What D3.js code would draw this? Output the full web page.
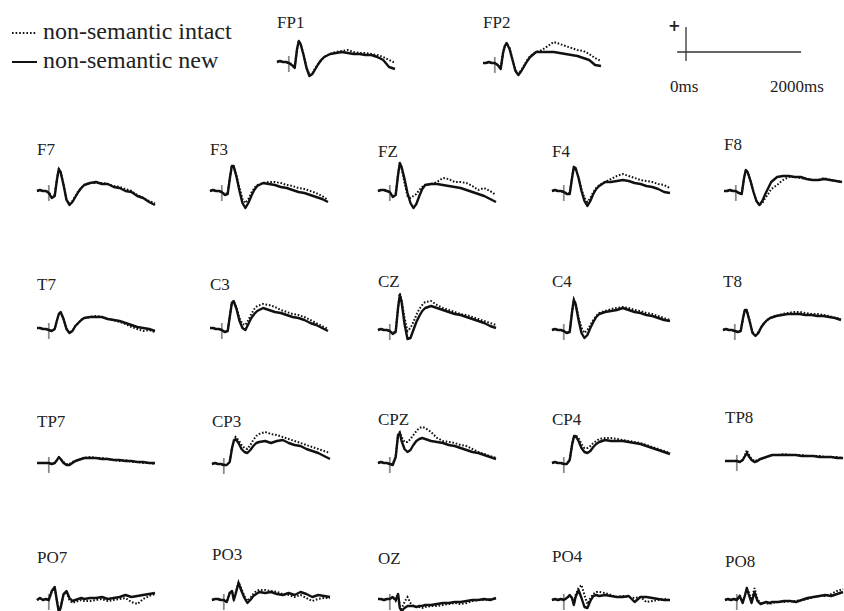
<!DOCTYPE html>
<html lang="en">
<head>
<meta charset="UTF-8">
<title>ERP waveforms</title>
<script src="https://d3js.org/d3.v7.min.js"></script>
<style>
  body { margin: 0; background: #fff; }
  text { font-family: "Liberation Serif", "Times New Roman", serif; fill: #222; }
</style>
</head>
<body>
<div id="chart"></div>
<script>
// sample times (ms) shared by every channel
var times = [-200,-150,-100,-50,0,50,100,140,170,200,250,300,350,400,450,500,550,600,700,800,900,1000,1100,1200,1300,1400,1500,1600,1700,1800];

// amplitudes (uV), positive up
var FP1_new    = [0,1,0,0,-1,-3,-6,13,21,18,7,-6,-14,-12,-7,-2,2,5,8,9,10,9,8,8,7,7,5,2,-5,-7];
var FP1_intact = [0,1,0,0,-1,-2,-5,13,21,18,8,-5,-13,-11,-6,-2,2,5,8,10,11,12,10,9,9,8,7,5,2,-1];
var FP2_new    = [0,0,1,0,0,-2,-6,10,17,20,14,3,-8,-12,-8,-3,2,6,11,11,11,11,10,9,8,7,5,3,-2,-3];
var FP2_intact = [0,0,1,0,0,-2,-5,11,17,20,15,4,-7,-11,-7,-2,3,7,11,13,17,21,19,17,15,13,12,9,5,2];

var F7_new    = [0,1,0,0,-2,-7,-5,12,22,19,6,-9,-14,-11,-6,-1,3,6,8,9,7,7,4,3,0,-1,-5,-7,-11,-14];
var F7_intact = [0,1,0,0,-1,-6,-4,13,22,19,7,-8,-13,-10,-5,0,3,6,8,8,8,7,5,4,2,0,-4,-7,-10,-12];
var F3_new    = [0,1,0,0,-1,-4,-3,14,25,25,14,0,-12,-17,-12,-5,1,5,8,7,6,4,3,1,-1,-2,-4,-6,-8,-11];
var F3_intact = [0,1,0,0,-1,-3,-2,15,25,25,15,3,-8,-12,-8,-2,3,6,8,9,9,8,6,5,3,2,0,-2,-5,-9];
var FZ_new    = [0,1,1,0,-1,-6,-4,16,28,24,12,-2,-12,-17,-13,-5,2,6,7,7,6,5,4,3,1,-1,-3,-5,-8,-11];
var FZ_intact = [0,1,1,0,-1,-5,-3,17,28,23,8,-5,-7,-5,-3,1,4,6,7,9,13,12,9,9,8,5,1,3,0,-4];
var F4_new    = [0,1,0,0,-1,-3,-3,13,24,23,13,0,-10,-15,-10,-3,2,5,9,9,10,11,10,8,7,5,4,2,-1,-2];
var F4_intact = [0,1,0,0,-1,-2,-2,14,24,23,14,2,-7,-11,-7,-1,3,6,9,12,15,17,15,13,11,10,9,7,6,3];
var F8_new    = [0,0,1,0,0,-2,-3,13,21,19,10,-1,-10,-14,-10,-3,3,9,14,15,15,14,14,12,11,11,12,11,10,9];
var F8_intact = [0,0,1,0,0,-2,-3,13,21,19,10,-1,-10,-14,-12,-7,-3,2,6,11,14,14,13,12,11,11,13,11,10,9];

var T7_new    = [1,1,0,0,-1,-2,0,9,15,17,10,0,-4,-2,3,6,9,11,12,12,12,10,9,8,6,4,2,1,0,-2];
var T7_intact = [1,1,0,0,-1,-2,0,9,15,17,10,0,-4,-2,3,6,9,11,12,13,12,10,9,7,5,2,0,-2,-1,-3];
var C3_new    = [1,1,0,0,-1,-3,-2,14,26,28,20,8,1,-1,5,11,15,18,21,19,17,16,14,12,11,9,6,4,1,-2];
var C3_intact = [1,1,0,0,-1,-3,-2,15,26,28,21,11,5,4,9,15,20,23,25,24,22,19,17,15,14,12,9,6,3,0];
var CZ_new    = [0,1,0,0,-1,-4,-2,22,35,28,6,-9,-8,0,8,14,19,22,24,22,20,18,16,15,13,11,9,7,4,2];
var CZ_intact = [0,1,0,0,-1,-3,-1,23,37,30,12,-1,2,8,15,21,25,28,29,25,22,20,18,16,15,13,11,9,7,5];
var C4_new    = [0,1,0,0,-1,-3,-2,18,30,26,10,-3,-8,-5,2,8,13,16,18,19,20,22,20,18,17,15,14,12,10,9];
var C4_intact = [0,1,0,0,-1,-3,-1,19,31,27,13,2,-3,0,5,10,14,17,19,21,22,23,22,20,19,17,16,14,12,10];
var T8_new    = [0,1,0,0,-1,-2,-1,12,20,20,9,-3,-6,-3,3,7,10,12,14,15,16,16,16,15,15,14,14,13,12,10];
var T8_intact = [0,1,0,0,-1,-2,-1,12,20,20,10,-2,-5,-2,3,7,10,12,14,16,17,18,18,17,16,16,15,14,12,11];

var TP7_new    = [0,0,0,0,0,-1,0,3,6,4,0,-2,-2,0,2,3,4,5,5,5,4,4,3,3,2,2,1,1,0,0];
var TP7_intact = [0,0,0,0,0,-1,0,3,5,4,1,-1,-1,1,2,3,4,5,6,5,5,4,3,2,3,1,1,0,0,-1];
var CP3_new    = [0,1,0,0,-1,-1,2,16,23,25,21,15,12,11,14,18,21,22,23,21,23,24,21,19,18,15,13,11,8,5];
var CP3_intact = [0,1,0,0,-1,-1,2,17,24,27,24,19,16,15,19,24,28,30,32,30,29,27,25,23,21,19,17,15,13,11];
var CPZ_new    = [0,1,0,0,-1,-2,6,28,30,22,14,11,13,18,22,24,25,24,22,21,20,18,17,15,13,11,10,8,6,4];
var CPZ_intact = [0,1,0,0,-1,-1,7,29,31,26,21,21,24,28,32,35,36,35,31,25,22,21,20,18,17,14,11,9,7,5];
var CP4_new    = [0,1,0,0,-1,-1,3,18,26,27,22,15,11,10,12,16,19,21,23,22,22,22,21,20,19,17,15,13,11,9];
var CP4_intact = [0,1,0,0,-1,-1,3,19,27,28,25,19,15,15,17,20,22,24,25,25,24,23,22,21,20,18,16,14,12,10];
var TP8_new    = [0,0,0,0,0,-1,1,5,8,5,1,-1,0,2,3,4,5,6,6,6,6,6,5,5,5,4,4,4,3,3];
var TP8_intact = [0,0,0,0,0,-1,1,6,11,7,2,0,1,2,3,4,5,6,6,7,6,6,6,5,5,5,4,4,4,3];

var PO7_new    = [0,2,0,1,0,9,13,-2,-12,-8,6,9,2,-1,0,1,2,1,2,2,3,1,2,3,5,3,4,5,6,7];
var PO7_intact = [0,2,0,1,0,8,12,-1,-11,-7,5,8,0,-3,-2,-1,0,-1,-1,0,1,-1,0,1,2,-2,-4,1,4,6];
var PO3_new    = [0,1,1,0,0,-2,7,9,0,6,17,9,2,-3,0,4,6,8,7,8,6,5,7,5,8,6,3,5,4,3];
var PO3_intact = [0,1,1,0,0,-2,7,8,1,7,18,11,4,-1,2,6,9,10,10,9,8,6,5,3,5,2,-1,1,2,2];
var OZ_new     = [1,1,0,1,1,3,0,6,-8,-11,-8,-6,-6,-6,-7,-6,-6,-5,-5,-4,-3,-3,-2,-2,-1,0,0,1,0,2];
var OZ_intact  = [1,1,0,1,1,3,-1,5,-6,-9,-2,3,-3,-6,-7,-7,-8,-7,-6,-6,-5,-4,-3,-4,-3,-1,0,0,1,1];
var PO4_new    = [0,1,0,1,0,2,5,2,-5,3,10,2,-7,-8,-1,4,5,4,5,4,3,3,4,-2,3,3,2,1,0,0];
var PO4_intact = [0,1,0,1,0,2,4,2,-4,5,12,15,5,-4,2,6,8,8,7,5,3,4,3,2,3,-2,-1,0,1,0];
var PO8_new    = [0,1,0,1,0,4,-3,5,12,6,-3,8,-1,-4,-3,-2,-3,-2,-2,-1,-1,-2,0,2,3,4,5,4,6,8];
var PO8_intact = [0,1,0,1,0,4,-2,5,11,8,0,12,1,-3,-3,-3,-4,-3,-2,-2,-1,-1,0,1,3,4,4,6,9,11];

var legendLabels = ["non-semantic intact", "non-semantic new"];

// panel placement: name, left x, baseline y, label baseline y, data
var panels = [
    ["FP1", 277, 62, 28, FP1_intact, FP1_new],
    ["FP2", 483, 63, 28, FP2_intact, FP2_new],
    ["F7", 37, 191, 155, F7_intact, F7_new],
    ["F3", 210, 191, 155, F3_intact, F3_new],
    ["FZ", 378, 191, 157, FZ_intact, FZ_new],
    ["F4", 552, 191, 157, F4_intact, F4_new],
    ["F8", 724, 191, 150, F8_intact, F8_new],
    ["T7", 37, 329, 290, T7_intact, T7_new],
    ["C3", 210, 329, 290, C3_intact, C3_new],
    ["CZ", 378, 330, 287, CZ_intact, CZ_new],
    ["C4", 552, 330, 287, C4_intact, C4_new],
    ["T8", 723, 330, 287, T8_intact, T8_new],
    ["TP7", 37, 463, 427, TP7_intact, TP7_new],
    ["CP3", 212, 464, 427, CP3_intact, CP3_new],
    ["CPZ", 378, 463, 425, CPZ_intact, CPZ_new],
    ["CP4", 552, 463, 425, CP4_intact, CP4_new],
    ["TP8", 725, 461, 423, TP8_intact, TP8_new],
    ["PO7", 37, 600, 563, PO7_intact, PO7_new],
    ["PO3", 212, 600, 560, PO3_intact, PO3_new],
    ["OZ", 378, 600, 564, OZ_intact, OZ_new],
    ["PO4", 552, 600, 562, PO4_intact, PO4_new],
    ["PO8", 725, 600, 567, PO8_intact, PO8_new]
];

var svg = d3.select("#chart")
    .append("svg")
    .attr("width", 844)
    .attr("height", 611);

// time -> px inside a panel, amplitude -> px relative to baseline
var xScale = d3.scaleLinear().domain([-200, 1800]).range([0, 118]);
var yScale = d3.scaleLinear().domain([-20, 20]).range([20, -20]);

var line = d3.line()
    .x(function(d, i) { return xScale(times[i]); })
    .y(function(d) { return yScale(d); });

panels.forEach(function(p) {
    var g = svg.append("g")
        .attr("transform", "translate(" + p[1] + "," + p[2] + ")");

    // stimulus onset marker
    g.append("line")
        .attr("x1", xScale(0)).attr("x2", xScale(0))
        .attr("y1", yScale(6)).attr("y2", yScale(-10))
        .attr("stroke", "#8a8a8a")
        .attr("stroke-width", 1.8);

    g.append("path")
        .datum(p[4])
        .attr("d", line)
        .attr("fill", "none")
        .attr("stroke", "#111")
        .attr("stroke-width", 2)
        .attr("stroke-dasharray", "1.6,1.8");

    g.append("path")
        .datum(p[5])
        .attr("d", line)
        .attr("fill", "none")
        .attr("stroke", "#111")
        .attr("stroke-width", 2.4)
        .attr("stroke-linejoin", "round");

    svg.append("text")
        .attr("x", p[1])
        .attr("y", p[3])
        .style("font-size", "17px")
        .text(p[0]);
});

// legend
var legend = svg.append("g");
legendLabels.forEach(function(lab, i) {
    var ly = 33 + i * 29;
    legend.append("line")
        .attr("x1", 12).attr("x2", 37)
        .attr("y1", ly).attr("y2", ly)
        .attr("stroke", "#111")
        .attr("stroke-width", 2)
        .attr("stroke-dasharray", i === 0 ? "1.6,2" : null);
    legend.append("text")
        .attr("x", 43)
        .attr("y", ly + 6)
        .style("font-size", "24px")
        .text(lab);
});

// scale bar
var sb = svg.append("g")
    .attr("transform", "translate(" + (686 - xScale(0)) + ",52)");
sb.append("line")
    .attr("x1", xScale(0)).attr("x2", xScale(0))
    .attr("y1", yScale(25)).attr("y2", yScale(-9))
    .attr("stroke", "#333").attr("stroke-width", 1.3);
sb.append("line")
    .attr("x1", xScale(-150)).attr("x2", xScale(1950))
    .attr("y1", yScale(0)).attr("y2", yScale(0))
    .attr("stroke", "#333").attr("stroke-width", 1.3);
svg.append("text")
    .attr("x", 668).attr("y", 31)
    .style("font-size", "15px")
    .style("font-weight", "bold")
    .style("font-family", "DejaVu Sans, sans-serif")
    .text("+");
svg.append("text")
    .attr("x", 670).attr("y", 92)
    .style("font-size", "17px")
    .text("0ms");
svg.append("text")
    .attr("x", 770).attr("y", 92)
    .style("font-size", "17px")
    .text("2000ms");
</script>
</body>
</html>
